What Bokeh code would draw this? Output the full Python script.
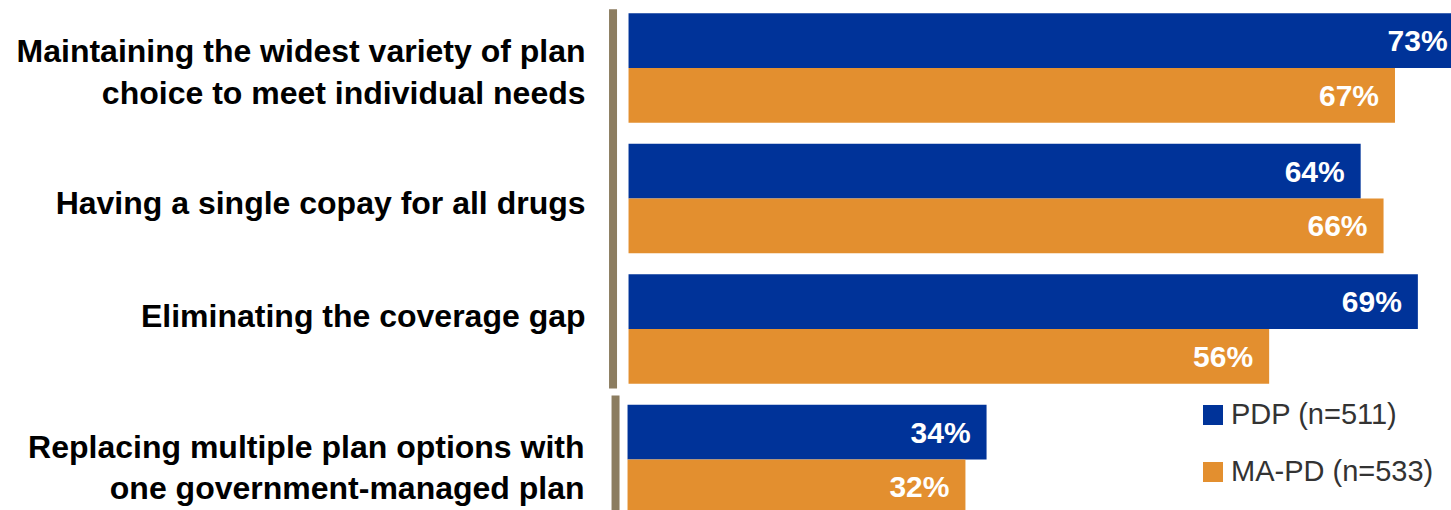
from bokeh.plotting import figure
from bokeh.models import ColumnDataSource, Range1d, Legend, LegendItem
from bokeh.core.properties import value
from bokeh.transform import dodge
from bokeh.embed import file_html
from bokeh.resources import INLINE

# ---- data ----
categories = [
    "Maintaining the widest variety of plan\nchoice to meet individual needs",
    "Having a single copay for all drugs",
    "Eliminating the coverage gap",
    "Replacing multiple plan options with\none government-managed plan",
]
pdp = [73, 64, 69, 34]
mapd = [67, 66, 56, 32]
series_names = ["PDP (n=511)", "MA-PD (n=533)"]
panel = ["top", "top", "top", "bottom"]

# ---- styling ----
BLUE = "#003399"
ORANGE = "#E38F2F"
DIVIDER = "#8C7D60"
FONT = "Liberation Sans"
label_dy = [4, 5, -13, 8]

def make_source(which):
    idx = [i for i, p_ in enumerate(panel) if p_ == which]
    return ColumnDataSource(dict(
        y=[float(i) for i in idx],
        cat=[categories[i] for i in idx],
        pdp=[pdp[i] for i in idx],
        mapd=[mapd[i] for i in idx],
        pdp_lbl=[f"{pdp[i]}%" for i in idx],
        mapd_lbl=[f"{mapd[i]}%" for i in idx],
        dy=[label_dy[i] for i in idx],
    ))

src_top = make_source("top")
src_bot = make_source("bottom")

p = figure(width=1451, height=510, output_backend="svg", toolbar_location=None,
           x_range=Range1d(-54.9, 71.94), y_range=Range1d(start=3.391, end=-0.517),
           x_axis_location=None, y_axis_location=None, min_border=0,
           background_fill_color="white", border_fill_color="white")
p.extra_x_ranges = {"bottom": Range1d(-59.38, 78.03)}
p.grid.visible = False
p.outline_line_color = None

BAR_H = 0.42
HALF = BAR_H / 2

renderers = {}
for src, rng in ((src_top, "default"), (src_bot, "bottom")):
    r1 = p.hbar(y=dodge("y", -HALF, range=p.y_range), left=0, right="pdp", height=BAR_H,
                source=src, fill_color=BLUE, line_color=None, x_range_name=rng)
    r2 = p.hbar(y=dodge("y", HALF, range=p.y_range), left=0, right="mapd", height=BAR_H,
                source=src, fill_color=ORANGE, line_color=None, x_range_name=rng)
    if rng == "default":
        renderers["pdp"], renderers["mapd"] = r1, r2
    for col, sign in (("pdp_lbl", -1), ("mapd_lbl", 1)):
        p.text(x=col.replace("_lbl", ""), y=dodge("y", sign * HALF, range=p.y_range), text=col,
               source=src, x_range_name=rng, x_offset=-16, text_align="right",
               text_baseline="middle", text_color="white", text_font=value(FONT),
               text_font_style="bold", text_font_size="30px")
    p.text(x=0, y="y", text="cat", source=src, x_range_name=rng, x_offset=-43, y_offset="dy",
           text_align="right", text_baseline="middle", text_color="black",
           text_font=value(FONT), text_font_style="bold", text_font_size="32px",
           text_line_height=1.15)

# vertical dividers
p.segment(x0=[-1.355], x1=[-1.355], y0=[-0.45], y1=[2.456], line_color=DIVIDER, line_width=8)
p.segment(x0=[-1.136], x1=[-1.136], y0=[2.51], y1=[3.5], line_color=DIVIDER, line_width=8,
          x_range_name="bottom")

legend = Legend(items=[LegendItem(label=series_names[0], renderers=[renderers["pdp"]]),
                       LegendItem(label=series_names[1], renderers=[renderers["mapd"]])],
                location=(1200, 22), glyph_width=25, glyph_height=25, label_height=25,
                spacing=24, padding=0, margin=0, border_line_color=None,
                background_fill_alpha=0, label_standoff=6,
                label_text_font=FONT, label_text_font_size="29px", label_text_color="#333333")
p.add_layout(legend)

open("out.html", "w").write(file_html(p, INLINE))
